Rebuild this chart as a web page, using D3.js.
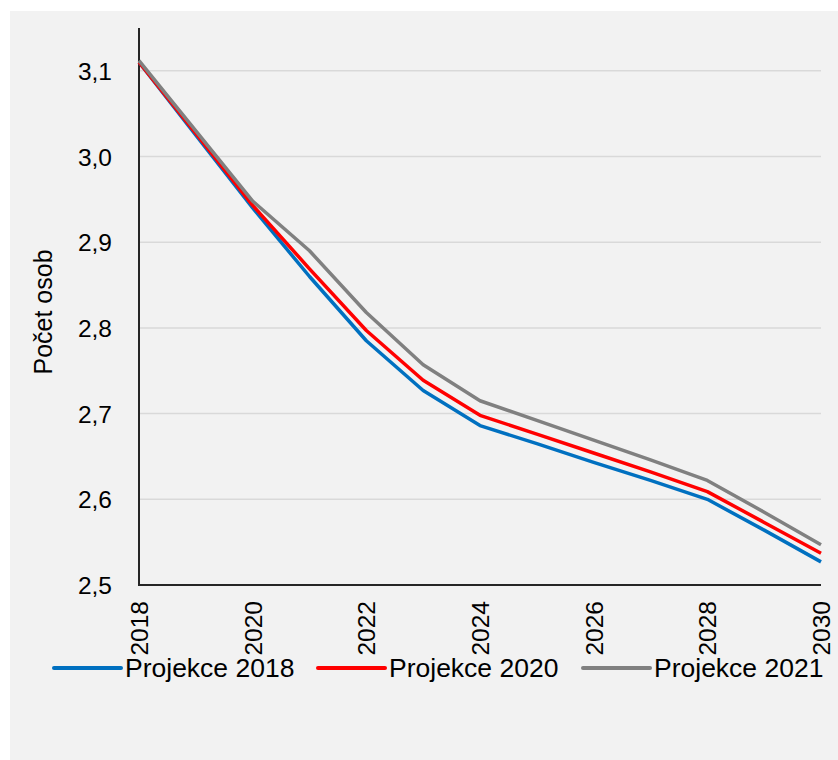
<!DOCTYPE html>
<html>
<head>
<meta charset="utf-8">
<script src="https://cdn.jsdelivr.net/npm/d3@7"></script>
<style>
  body { margin: 0; background: #fff; }
  text { font-family: "Liberation Sans", Arial, sans-serif; fill: #000; }
</style>
</head>
<body>
<script>
(function(){
  //data
  var years = [2018, 2019, 2020, 2021, 2022, 2023, 2024, 2025, 2026, 2027, 2028, 2029, 2030];
  var proj2018 = [3.110, 3.025, 2.940, 2.860, 2.785, 2.727, 2.686, 2.665, 2.643, 2.622, 2.600, 2.564, 2.527];
  var proj2020 = [3.110, 3.027, 2.943, 2.869, 2.797, 2.739, 2.698, 2.676, 2.654, 2.632, 2.609, 2.573, 2.537];
  var proj2021 = [3.112, 3.030, 2.948, 2.890, 2.818, 2.757, 2.715, 2.692, 2.669, 2.646, 2.622, 2.585, 2.547];
  var seriesNames = ["Projekce 2018", "Projekce 2020", "Projekce 2021"];
  var yTicks = [2.5, 2.6, 2.7, 2.8, 2.9, 3.0, 3.1];
  var xTicks = [2018, 2020, 2022, 2024, 2026, 2028, 2030];
  var yLabel = "Počet osob";

  var colors = ["#0070c0", "#ff0000", "#808080"];
  var seriesData = [proj2018, proj2020, proj2021];

  var width = 838, height = 760;

  var svg = d3.select("body").append("svg")
      .attr("width", width)
      .attr("height", height);

  //gray panel behind the chart
  svg.append("rect")
      .attr("x", 10).attr("y", 11)
      .attr("width", width - 10).attr("height", height - 11)
      .attr("fill", "#f2f2f2");

  var x = d3.scaleLinear().domain([2018, 2030]).range([139, 821]);
  var y = d3.scaleLinear().domain([2.5, 3.15]).range([585, 28]);

  //horizontal gridlines
  svg.append("g").selectAll("line")
      .data(yTicks.slice(1))
      .enter().append("line")
      .attr("x1", x(2018)).attr("x2", x(2030))
      .attr("y1", function(d){ return y(d); })
      .attr("y2", function(d){ return y(d); })
      .attr("stroke", "#d9d9d9")
      .attr("stroke-width", 1.5);

  //y tick labels
  var yAxis = d3.axisLeft(y)
      .tickValues(yTicks)
      .tickSize(0)
      .tickPadding(27)
      .tickFormat(function(d){ return d3.format(".1f")(d).replace(".", ","); });
  var yg = svg.append("g")
      .attr("transform", "translate(" + x(2018) + ",0)")
      .call(yAxis);
  yg.select(".domain").remove();
  yg.selectAll("text")
      .style("font-size", "24.5px")
      .attr("dy", "0.35em");

  //x tick labels (rotated)
  var xAxis = d3.axisBottom(x)
      .tickValues(xTicks)
      .tickSize(0)
      .tickFormat(d3.format("d"));
  var xg = svg.append("g")
      .attr("transform", "translate(0," + y(2.5) + ")")
      .call(xAxis);
  xg.select(".domain").remove();
  xg.selectAll("text")
      .style("font-size", "24.5px")
      .attr("text-anchor", "end")
      .attr("transform", "rotate(-90)")
      .attr("x", -16)
      .attr("y", 0)
      .attr("dy", "0.35em");

  //axis lines
  svg.append("line")
      .attr("x1", x(2018)).attr("x2", x(2018))
      .attr("y1", y(3.15)).attr("y2", y(2.5))
      .attr("stroke", "#262626").attr("stroke-width", 2);
  svg.append("line")
      .attr("x1", x(2018) - 1).attr("x2", x(2030))
      .attr("y1", y(2.5)).attr("y2", y(2.5))
      .attr("stroke", "#262626").attr("stroke-width", 2);

  //series lines
  var line = d3.line()
      .x(function(d, i){ return x(years[i]); })
      .y(function(d){ return y(d); });

  svg.append("g").selectAll("path")
      .data(seriesData)
      .enter().append("path")
      .attr("d", line)
      .attr("fill", "none")
      .attr("stroke", function(d, i){ return colors[i]; })
      .attr("stroke-width", 3.5)
      .attr("stroke-linejoin", "round");

  //y axis title
  svg.append("text")
      .attr("transform", "translate(52,312) rotate(-90)")
      .attr("text-anchor", "middle")
      .style("font-size", "25px")
      .text(yLabel);

  //legend
  var legendX = [54, 318, 583];
  var legend = svg.append("g").selectAll("g")
      .data(seriesNames)
      .enter().append("g")
      .attr("transform", function(d, i){ return "translate(" + legendX[i] + ",668)"; });
  legend.append("line")
      .attr("x1", 0).attr("x2", 67)
      .attr("y1", 0).attr("y2", 0)
      .attr("stroke", function(d, i){ return colors[i]; })
      .attr("stroke-width", 4)
      .attr("stroke-linecap", "round");
  legend.append("text")
      .attr("x", 71)
      .attr("y", 0)
      .attr("dy", "0.35em")
      .style("font-size", "26.5px")
      .text(function(d){ return d; });
})();
</script>
</body>
</html>
